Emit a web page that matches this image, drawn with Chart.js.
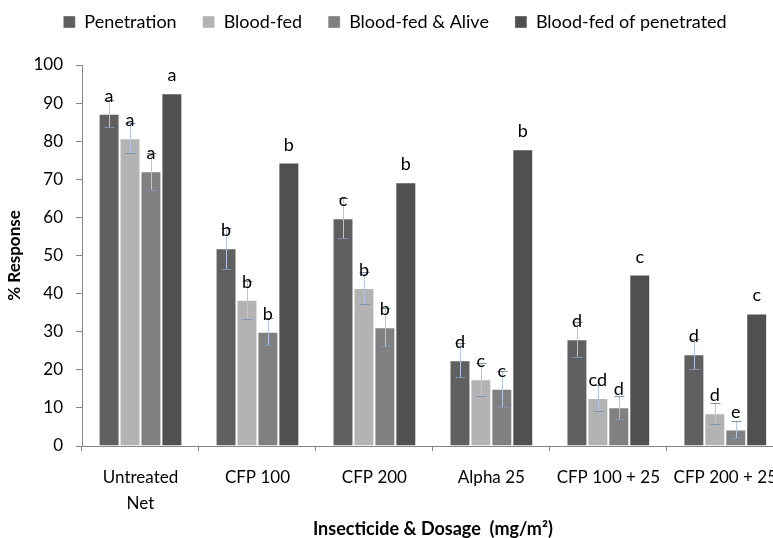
<!DOCTYPE html>
<html>
<head>
<meta charset="utf-8">
<script src="https://cdn.jsdelivr.net/npm/chart.js@4.4.1/dist/chart.umd.min.js"></script>
<style>
    html, body { margin: 0; padding: 0; background: #fff; overflow: hidden; }
    #wrap { width: 790px; height: 538px; }
</style>
</head>
<body>
<div id="wrap"><canvas id="chart"></canvas></div>
<script>
// Treatments and response values (%)
const categories = [['Untreated', 'Net'], 'CFP 100', 'CFP 200', 'Alpha 25', 'CFP 100 + 25', 'CFP 200 + 25'];
const penetration = [87.2, 51.9, 59.8, 22.5, 28.0, 24.1];
const bloodFed = [80.8, 38.4, 41.5, 17.5, 12.6, 8.6];
const bloodFedAlive = [72.1, 30.0, 31.2, 15.0, 10.2, 4.3];
const bloodFedOfPenetrated = [92.6, 74.4, 69.2, 77.9, 45.0, 34.8];

// Standard errors
const penetrationErr = [3.6, 5.4, 5.2, 4.5, 4.6, 3.9];
const bloodFedErr = [4.0, 5.0, 4.1, 4.4, 3.4, 2.8];
const bloodFedAliveErr = [4.8, 3.6, 5.0, 4.8, 3.0, 2.3];

// Significance letters
const penetrationSig = ['a', 'b', 'c', 'd', 'd', 'd'];
const bloodFedSig = ['a', 'b', 'b', 'c', 'cd', 'd'];
const bloodFedAliveSig = ['a', 'b', 'b', 'c', 'd', 'e'];
const bloodFedOfPenetratedSig = ['a', 'b', 'b', 'b', 'c', 'c'];

const yTicks = [0, 10, 20, 30, 40, 50, 60, 70, 80, 90, 100];

const FONT = 'Lato, "Open Sans", sans-serif';

// Error bars with caps
const errorBars = {
    id: 'errorBars',
    afterDatasetsDraw(chart) {
        const ctx = chart.ctx;
        const y = chart.scales.y;
        chart.data.datasets.forEach((ds, di) => {
            if (!ds.errors) return;
            const meta = chart.getDatasetMeta(di);
            meta.data.forEach((bar, i) => {
                const v = ds.data[i], e = ds.errors[i];
                const top = y.getPixelForValue(v + e);
                const bot = y.getPixelForValue(v - e);
                const x = Math.round(bar.x) + 0.5;
                ctx.save();
                ctx.lineWidth = 1;
                ctx.strokeStyle = '#b4c6e0';
                ctx.beginPath();
                ctx.moveTo(x, top);
                ctx.lineTo(x, bot);
                ctx.stroke();
                ctx.strokeStyle = '#7f93ad';
                ctx.beginPath();
                ctx.moveTo(x - 5, Math.round(top) + 0.5);
                ctx.lineTo(x + 5, Math.round(top) + 0.5);
                ctx.moveTo(x - 5, Math.round(bot) + 0.5);
                ctx.lineTo(x + 5, Math.round(bot) + 0.5);
                ctx.stroke();
                ctx.restore();
            });
        });
    }
};

// Letters above each bar
const sigLabels = {
    id: 'sigLabels',
    afterDatasetsDraw(chart) {
        const ctx = chart.ctx;
        ctx.save();
        ctx.font = '18px ' + FONT;
        ctx.fillStyle = '#000';
        ctx.textAlign = 'center';
        ctx.textBaseline = 'alphabetic';
        chart.data.datasets.forEach((ds, di) => {
            const meta = chart.getDatasetMeta(di);
            meta.data.forEach((bar, i) => {
                ctx.fillText(ds.letters[i], bar.x, bar.y - 12);
            });
        });
        ctx.restore();
    }
};

// Extra room under the legend
const legendGap = {
    id: 'legendGap',
    beforeInit(chart) {
        const fit = chart.legend.fit;
        chart.legend.fit = function () {
            fit.bind(chart.legend)();
            this.height += 24;
        };
    }
};

new Chart(document.getElementById('chart'), {
    type: 'bar',
    data: {
        labels: categories,
        datasets: [
            { label: 'Penetration', data: penetration, errors: penetrationErr, letters: penetrationSig, backgroundColor: '#606060' },
            { label: 'Blood-fed', data: bloodFed, errors: bloodFedErr, letters: bloodFedSig, backgroundColor: '#b3b3b3' },
            { label: 'Blood-fed & Alive', data: bloodFedAlive, errors: bloodFedAliveErr, letters: bloodFedAliveSig, backgroundColor: '#808080' },
            { label: 'Blood-fed of penetrated', data: bloodFedOfPenetrated, letters: bloodFedOfPenetratedSig, backgroundColor: '#505050' }
        ]
    },
    options: {
        responsive: true,
        maintainAspectRatio: false,
        animation: false,
        datasets: {
            bar: {
                categoryPercentage: 0.716,
                barPercentage: 1.0,
                borderColor: 'rgba(255,255,255,0.35)',
                borderWidth: 1
            }
        },
        layout: { padding: { top: -13, left: 0, right: 0, bottom: 0 } },
        plugins: {
            legend: {
                position: 'top',
                labels: {
                    font: { family: FONT, size: 18 },
                    color: '#000',
                    boxWidth: 12,
                    boxHeight: 12,
                    padding: 26
                }
            },
            tooltip: { enabled: false }
        },
        scales: {
            x: {
                grid: { display: true, drawOnChartArea: false, tickLength: 5, color: '#868686' },
                border: { color: '#868686' },
                ticks: {
                    font: { family: FONT, size: 17, lineHeight: 1.55 },
                    color: '#000',
                    padding: 13,
                    maxRotation: 0,
                    autoSkip: false
                },
                title: {
                    display: true,
                    text: 'Insecticide & Dosage  (mg/m²)',
                    font: { family: FONT, size: 18, weight: 'bold' },
                    color: '#000',
                    padding: { top: 0, bottom: -2 }
                },
                afterFit(scale) { scale.height = 92; }
            },
            y: {
                min: 0,
                max: 100,
                afterBuildTicks(scale) { scale.ticks = yTicks.map(v => ({ value: v })); },
                grid: { display: true, drawOnChartArea: false, tickLength: 6, color: '#868686' },
                border: { color: '#868686' },
                ticks: {
                    font: { family: FONT, size: 17 },
                    color: '#000',
                    padding: 13
                },
                title: {
                    display: true,
                    text: '% Response',
                    font: { family: FONT, size: 17, weight: 'bold' },
                    color: '#000',
                    padding: { top: 4, bottom: 0 }
                },
                afterFit(scale) { scale.width = 82; }
            }
        }
    },
    plugins: [errorBars, sigLabels, legendGap]
});
</script>
</body>
</html>
